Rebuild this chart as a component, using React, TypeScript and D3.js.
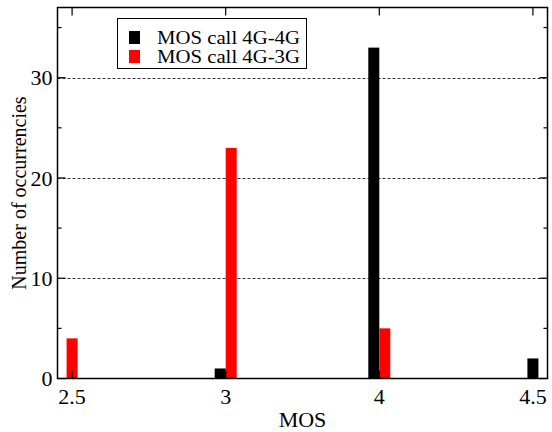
import React from 'react';
import * as d3 from 'd3';

const categories = ['2.5', '3', '4', '4.5'];
const call4G4G = [0, 1, 33, 2];
const call4G3G = [4, 23, 5, 0];
const seriesNames = ['MOS call 4G-4G', 'MOS call 4G-3G'];
const seriesColors = ['#000000', '#ff0000'];
const yTicks = [0, 10, 20, 30];
const yMinorTicks = [5, 15, 25, 35];
const gridValues = [10, 20, 30];

const W = 552;
const H = 432;
const margin = { top: 7.5, right: 4.5, bottom: 53.5, left: 57.5 };
const barW = 11;
const font = 'Liberation Serif';

const App = () => {
  const left = margin.left;
  const right = W - margin.right;
  const top = margin.top;
  const bottom = H - margin.bottom;

  const x = d3.scalePoint<string>().domain(categories).range([left, right]).padding(0.095);
  const y = d3.scaleLinear().domain([0, 37]).range([bottom, top]);

  const series = [call4G4G, call4G3G];

  // bars side by side when both series have a value, centered otherwise
  const bars: { key: string; x0: number; v: number; color: string }[] = [];
  categories.forEach((c, i) => {
    const both = series.every((s) => s[i] > 0);
    series.forEach((s, k) => {
      if (s[i] <= 0) return;
      const cx = x(c) as number;
      const x0 = both ? cx + (k === 0 ? -barW : 0) : cx - barW / 2;
      bars.push({ key: c + k, x0, v: s[i], color: seriesColors[k] });
    });
  });

  return (
    <svg width={W} height={H} fontFamily={font} style={{ position: 'absolute', left: 0, top: 0, background: '#fff' }}>
      {gridValues.map((g) => (
        <line key={'g' + g} x1={left} x2={right} y1={Math.round(y(g)) + 0.5} y2={Math.round(y(g)) + 0.5}
          stroke="#333" strokeWidth={1} strokeDasharray="3 2" />
      ))}

      {bars.map((b) => (
        <rect key={b.key} x={b.x0} y={y(b.v)} width={barW} height={y(0) - y(b.v)} fill={b.color} />
      ))}

      {yTicks.map((t) => (
        <g key={'yt' + t}>
          <line x1={left} x2={left + 8} y1={y(t)} y2={y(t)} stroke="#000" strokeWidth={1.2} />
          <line x1={right} x2={right - 8} y1={y(t)} y2={y(t)} stroke="#000" strokeWidth={1.2} />
          <text x={left - 5} y={y(t)} dy="0.35em" textAnchor="end" fontSize={22}>{t}</text>
        </g>
      ))}
      {yMinorTicks.map((t) => (
        <g key={'ym' + t}>
          <line x1={left} x2={left + 4} y1={y(t)} y2={y(t)} stroke="#000" strokeWidth={1.2} />
          <line x1={right} x2={right - 4} y1={y(t)} y2={y(t)} stroke="#000" strokeWidth={1.2} />
        </g>
      ))}
      {categories.map((c) => (
        <g key={'xt' + c}>
          <line x1={x(c)} x2={x(c)} y1={bottom} y2={bottom - 8} stroke="#000" strokeWidth={1.2} />
          <line x1={x(c)} x2={x(c)} y1={top} y2={top + 8} stroke="#000" strokeWidth={1.2} />
          <text x={x(c)} y={bottom + 25} textAnchor="middle" fontSize={22}>{c}</text>
        </g>
      ))}

      <rect x={left} y={top} width={right - left} height={bottom - top} fill="none" stroke="#000" strokeWidth={1.5} />

      <text x={(left + right) / 2} y={H - 5} textAnchor="middle" fontSize={22}>MOS</text>
      <text transform={`translate(26,${(top + bottom) / 2}) rotate(-90)`} textAnchor="middle" fontSize={20}>
        Number of occurrencies
      </text>

      {/* legend */}
      <rect x={117.5} y={18.5} width={189} height={50} fill="#fff" stroke="#000" strokeWidth={1} />
      {seriesNames.map((n, i) => (
        <g key={n} transform={`translate(0,${i * 19})`}>
          <rect x={129} y={31} width={11} height={13} fill={seriesColors[i]} />
          <text x={157} y={44} fontSize={19} textLength={143} lengthAdjust="spacingAndGlyphs">{n}</text>
        </g>
      ))}
    </svg>
  );
};

export default App;
